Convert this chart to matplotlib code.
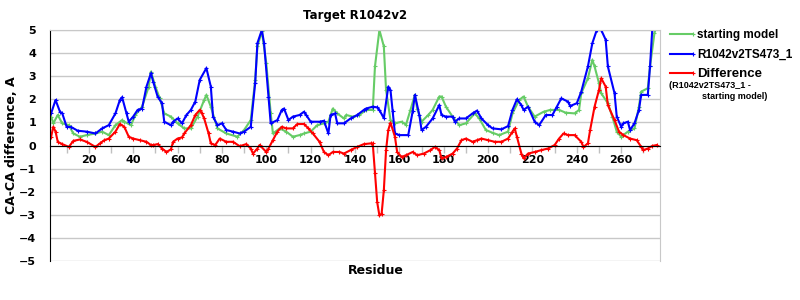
import matplotlib
matplotlib.use("Agg")
import matplotlib.pyplot as plt
from matplotlib.lines import Line2D

# values (residue, CA-CA difference)
start_res = [3, 4, 6, 8, 11, 13, 16, 19, 23, 26, 29, 32, 35, 36, 39, 41, 44, 47, 48, 50,
             52, 54, 57, 60, 63, 66, 69, 72, 73, 75, 78, 82, 87, 90, 93, 95, 96, 98, 100, 102,
             103, 106, 109, 112, 115, 117, 120, 123, 126, 128, 130, 132, 135, 136, 139, 142, 145, 148, 149, 151,
             153, 154, 156, 158, 161, 163, 165, 167, 168, 170, 173, 175, 178, 179, 181, 184, 187, 190, 194, 196,
             199, 202, 205, 209, 211, 214, 216, 218, 221, 225, 228, 232, 235, 239, 241, 242, 245, 247, 248, 250,
             251, 254, 256, 258, 260, 263, 266, 268, 269, 272, 273, 275, 276]
start_val = [1.25, 0.96, 1.32, 0.96, 0.88, 0.52, 0.38, 0.45, 0.52, 0.6, 0.45, 0.88, 1.1, 1.03, 0.88, 1.32, 1.68, 2.55, 3.2, 2.55,
             2.04, 1.39, 1.25, 0.96, 0.74, 0.74, 1.25, 1.97, 2.19, 1.68, 0.74, 0.52, 0.38, 0.67, 1.1, 2.84, 4.29, 4.94, 3.57, 1.39,
             0.52, 0.74, 0.6, 0.38, 0.45, 0.52, 0.6, 0.88, 0.96, 1.03, 1.6, 1.39, 1.17, 1.32, 1.25, 1.32, 1.54, 1.54, 3.42, 5.0,
             4.29, 2.4, 1.1, 0.96, 1.03, 0.9, 1.54, 2.2, 1.6, 1.03, 1.32, 1.54, 2.12, 2.12, 1.68, 1.25, 0.88, 0.96, 1.39, 1.17,
             0.67, 0.55, 0.45, 0.6, 1.39, 1.97, 2.12, 1.68, 1.25, 1.46, 1.54, 1.54, 1.42, 1.39, 1.54, 2.26, 2.91, 3.71, 3.42, 2.7,
             2.26, 1.83, 1.25, 0.6, 0.38, 0.6, 0.74, 1.68, 2.33, 2.48, 3.42, 4.87, 5.2]

model_res = [3, 5, 7, 8, 10, 12, 15, 19, 23, 26, 29, 32, 34, 35, 37, 38, 40, 42, 44, 46,
             48, 49, 51, 53, 54, 57, 58, 60, 62, 64, 66, 68, 70, 73, 75, 76, 78, 80, 82, 85,
             88, 90, 93, 95, 96, 98, 99, 101, 102, 105, 107, 108, 110, 112, 115, 117, 118, 120, 124, 126,
             128, 129, 131, 132, 135, 138, 141, 144, 145, 148, 150, 151, 153, 155, 156, 157, 158, 160, 164, 166,
             167, 169, 170, 172, 175, 178, 179, 181, 184, 185, 187, 190, 193, 195, 197, 200, 202, 206, 209, 211,
             213, 215, 216, 218, 221, 223, 226, 229, 231, 233, 236, 237, 240, 242, 245, 247, 249, 251, 253, 254,
             257, 258, 260, 261, 263, 264, 266, 268, 269, 272, 273, 274, 276]
model_val = [1.39, 1.97, 1.46, 1.4, 0.81, 0.8, 0.64, 0.6, 0.52, 0.74, 0.88, 1.39, 1.97, 2.09, 1.39, 1.03, 1.25, 1.54, 1.6, 2.55,
             3.13, 2.77, 2.12, 1.83, 1.03, 0.88, 1.03, 1.17, 0.96, 1.32, 1.54, 1.9, 2.84, 3.35, 2.55, 1.25, 0.88, 0.96, 0.67, 0.6,
             0.52, 0.6, 0.81, 2.7, 4.43, 5.0, 4.43, 2.12, 0.96, 1.1, 1.54, 1.6, 1.1, 1.25, 1.32, 1.46, 1.32, 1.03, 1.03, 1.07,
             0.52, 1.32, 1.39, 0.96, 0.96, 1.17, 1.32, 1.54, 1.6, 1.68, 1.65, 1.54, 1.18, 2.55, 2.4, 1.48, 0.52, 0.45, 0.45, 1.48,
             2.19, 1.32, 0.67, 0.81, 1.17, 1.75, 1.32, 1.25, 1.25, 1.03, 1.17, 1.17, 1.39, 1.51, 1.17, 0.88, 0.74, 0.7, 0.84, 1.54,
             2.0, 1.75, 1.54, 1.68, 1.03, 0.88, 1.32, 1.32, 1.68, 2.04, 1.9, 1.71, 1.83, 2.33, 3.42, 4.43, 5.0, 5.0, 4.58, 3.42,
             2.26, 1.25, 0.81, 0.96, 1.03, 0.67, 0.96, 1.54, 2.19, 2.19, 3.42, 5.0, 5.3]

diff_res = [3, 4, 5, 6, 8, 11, 13, 16, 19, 23, 25, 27, 29, 32, 34, 36, 38, 40, 43, 46,
            48, 49, 51, 53, 55, 57, 58, 60, 62, 63, 66, 68, 70, 71, 72, 74, 75, 77, 79, 82,
            85, 88, 91, 93, 94, 96, 97, 100, 101, 103, 105, 107, 109, 112, 114, 117, 119, 121, 124, 126,
            128, 130, 133, 135, 138, 141, 144, 147, 148, 149, 150, 151, 152, 153, 154, 155, 156, 158, 159, 161,
            163, 166, 168, 171, 174, 176, 178, 179, 181, 184, 186, 188, 190, 193, 195, 197, 200, 203, 206, 209,
            211, 212, 213, 215, 216, 218, 221, 224, 227, 230, 232, 234, 236, 239, 242, 243, 245, 246, 248, 250,
            251, 253, 254, 257, 259, 261, 264, 267, 269, 270, 272, 274, 276]
diff_val = [0.38, 0.81, 0.6, 0.16, 0.06, -0.06, 0.2, 0.26, 0.16, -0.06, 0.09, 0.23, 0.3, 0.6, 0.93, 0.81, 0.38, 0.3, 0.23, 0.16,
            0.02, 0.02, 0.06, -0.13, -0.28, -0.17, 0.16, 0.3, 0.35, 0.52, 0.88, 1.32, 1.54, 1.39, 1.17, 0.52, 0.09, 0.02, 0.3, 0.16,
            0.16, -0.03, 0.06, -0.13, -0.35, -0.13, 0.02, -0.28, -0.13, 0.23, 0.6, 0.81, 0.74, 0.74, 0.93, 0.93, 0.74, 0.52, 0.16, -0.28,
            -0.42, -0.28, -0.28, -0.35, -0.2, -0.06, 0.06, 0.09, 0.09, -1.2, -2.45, -3.03, -2.95, -1.94, -0.2, 0.67, 0.99, 0.38, -0.28, -0.5,
            -0.42, -0.28, -0.42, -0.35, -0.2, -0.06, -0.2, -0.56, -0.5, -0.35, -0.13, 0.23, 0.3, 0.16, 0.23, 0.3, 0.23, 0.16, 0.16, 0.3,
            0.6, 0.74, 0.38, -0.35, -0.56, -0.35, -0.28, -0.2, -0.13, 0.02, 0.3, 0.52, 0.45, 0.45, 0.16, -0.06, 0.09, 0.67, 1.68, 2.41,
            2.91, 2.55, 1.75, 1.1, 0.6, 0.45, 0.3, 0.23, -0.06, -0.2, -0.13, -0.02, 0.02]

GREEN = '#66cc66'
BLUE = '#0000ff'
RED = '#ff0000'

plt.rcParams['font.family'] = 'DejaVu Sans'
plt.rcParams['font.weight'] = 'bold'

fig = plt.figure(figsize=(8, 3), dpi=100)
ax = fig.add_axes([50/800, 39/300, 610/800, 231/300])

ax.set_xlim(2.5, 277.5)
ax.set_ylim(-5, 5)
ax.set_yticks(range(-5, 6))
ax.grid(axis='y', color='#c8c8c8', lw=1)
ax.set_axisbelow(True)

kw = dict(lw=1.5, marker='+', markersize=3, mew=0.8, clip_on=True)
ax.plot(start_res, start_val, color=GREEN, **kw)
ax.plot(model_res, model_val, color=BLUE, **kw)
ax.plot(diff_res, diff_val, color=RED, **kw)

# x axis sits on zero
ax.spines['bottom'].set_position(('data', 0))
ax.spines['bottom'].set_color('black')
ax.spines['left'].set_color('black')
ax.spines['top'].set_color('#c8c8c8')
ax.spines['right'].set_color('#c8c8c8')
ax.set_xticks(range(20, 261, 20))
ax.set_xticks(range(10, 271, 10), minor=True)
ax.tick_params(axis='x', which='both', color='#c0c0c0', length=5, width=1, labelsize=8, pad=2)
ax.tick_params(axis='y', length=0, labelsize=8, pad=10)
for t in ax.get_xticklabels() + ax.get_yticklabels():
    t.set_fontweight('bold')

fig.text(355/800, 1 - 15/300, 'Target R1042v2', ha='center', va='center', fontsize=8.5, fontweight='bold')
fig.text(12/800, 1 - 145/300, 'CA-CA difference, A', rotation=90, ha='center', va='center',
         fontsize=9, fontweight='bold')
fig.text(376/800, 1 - 270/300, 'Residue', ha='center', va='center', fontsize=9, fontweight='bold')

# legend drawn by hand, outside the axes on the right
lab_font = 'Liberation Sans'
for y, c, lab, fs in [(34, GREEN, 'starting model', 8.5),
                      (54, BLUE, 'R1042v2TS473_1', 8.5),
                      (73, RED, 'Difference', 9.5)]:
    fig.add_artist(Line2D([670/800, 693/800], [1 - y/300, 1 - y/300], color=c, lw=1.5,
                          marker='+', markersize=3, mew=0.8, markevery=[1]))
    fig.text(697/800, 1 - (y + 1)/300, lab, ha='left', va='center', fontsize=fs,
             fontweight='bold', family=lab_font)
fig.text(669/800, 1 - 86/300, '(R1042v2TS473_1 -', ha='left', va='center', fontsize=6.5,
         fontweight='bold', family=lab_font)
fig.text(702/800, 1 - 97/300, 'starting model)', ha='left', va='center', fontsize=6.5,
         fontweight='bold', family=lab_font)

fig.savefig('out.png', dpi=100)
